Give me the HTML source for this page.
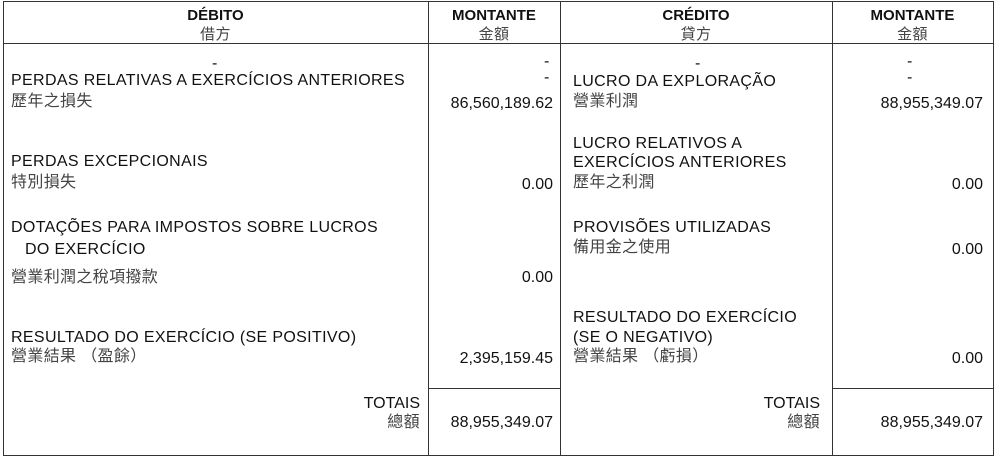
<!DOCTYPE html>
<html><head><meta charset="utf-8"><style>
body{margin:0;background:#fff;width:996px;height:463px;position:relative;overflow:hidden;font-family:"Liberation Sans","Noto Sans CJK TC",sans-serif;font-size:16px;color:#111;letter-spacing:0.35px}
.t{position:absolute;line-height:22px;white-space:nowrap}
.c{color:#444}
.b{font-weight:bold;font-size:15px;letter-spacing:0}
.h{font-size:15px}
.r{text-align:right}
.n{letter-spacing:0}
.l{position:absolute;background:#333}
</style></head><body>
<div class="l" style="left:3px;top:1px;width:990px;height:1px"></div>
<div class="l" style="left:3px;top:455px;width:990px;height:1px"></div>
<div class="l" style="left:3px;top:1px;width:1px;height:455px"></div>
<div class="l" style="left:993px;top:1px;width:1px;height:455px"></div>
<div class="l" style="left:428px;top:1px;width:1px;height:455px"></div>
<div class="l" style="left:560px;top:1px;width:1px;height:455px"></div>
<div class="l" style="left:832px;top:1px;width:1px;height:455px"></div>
<div class="l" style="left:3px;top:43px;width:990px;height:1px"></div>
<div class="l" style="left:428px;top:388px;width:132px;height:1px"></div>
<div class="l" style="left:832px;top:388px;width:161px;height:1px"></div>

<div class="t b" style="left:3px;width:425px;text-align:center;top:5px">DÉBITO</div>
<div class="t c h" style="left:3px;width:425px;text-align:center;top:24px">借方</div>
<div class="t b" style="left:428px;width:132px;text-align:center;top:5px">MONTANTE</div>
<div class="t c h" style="left:428px;width:132px;text-align:center;top:24px">金額</div>
<div class="t b" style="left:560px;width:272px;text-align:center;top:5px">CRÉDITO</div>
<div class="t c h" style="left:560px;width:272px;text-align:center;top:24px">貸方</div>
<div class="t b" style="left:832px;width:161px;text-align:center;top:5px">MONTANTE</div>
<div class="t c h" style="left:832px;width:161px;text-align:center;top:24px">金額</div>

<div class="t" style="left:212px;top:53px">-</div>
<div class="t" style="left:11px;top:70px">PERDAS RELATIVAS A EXERCÍCIOS ANTERIORES</div>
<div class="t c" style="left:11px;top:91px">歷年之損失</div>
<div class="t" style="left:11px;top:151px">PERDAS EXCEPCIONAIS</div>
<div class="t c" style="left:11px;top:172px">特別損失</div>
<div class="t" style="left:11px;top:217px">DOTAÇÕES PARA IMPOSTOS SOBRE LUCROS</div>
<div class="t" style="left:25px;top:239px">DO EXERCÍCIO</div>
<div class="t c" style="left:11px;top:267px">營業利潤之稅項撥款</div>
<div class="t" style="left:11px;top:327px">RESULTADO DO EXERCÍCIO (SE POSITIVO)</div>
<div class="t c" style="left:11px;top:346px">營業結果 （盈餘）</div>
<div class="t r n" style="left:200px;width:220px;top:393px">TOTAIS</div>
<div class="t r c" style="left:200px;width:220px;top:412px">總額</div>

<div class="t" style="left:544px;top:51px">-</div>
<div class="t" style="left:544px;top:67px">-</div>
<div class="t r n" style="left:430px;width:123px;top:93px">86,560,189.62</div>
<div class="t r n" style="left:430px;width:123px;top:174px">0.00</div>
<div class="t r n" style="left:430px;width:123px;top:267px">0.00</div>
<div class="t r n" style="left:430px;width:123px;top:348px">2,395,159.45</div>
<div class="t r n" style="left:430px;width:123px;top:412px">88,955,349.07</div>

<div class="t" style="left:695px;top:53px">-</div>
<div class="t" style="left:573px;top:71px">LUCRO DA EXPLORAÇÃO</div>
<div class="t c" style="left:573px;top:91px">營業利潤</div>
<div class="t" style="left:573px;top:133px">LUCRO RELATIVOS A</div>
<div class="t" style="left:573px;top:152px">EXERCÍCIOS ANTERIORES</div>
<div class="t c" style="left:573px;top:172px">歷年之利潤</div>
<div class="t" style="left:573px;top:217px">PROVISÕES UTILIZADAS</div>
<div class="t c" style="left:573px;top:237px">備用金之使用</div>
<div class="t" style="left:573px;top:307px">RESULTADO DO EXERCÍCIO</div>
<div class="t" style="left:573px;top:327px">(SE O NEGATIVO)</div>
<div class="t c" style="left:573px;top:346px">營業結果 （虧損）</div>
<div class="t r n" style="left:600px;width:220px;top:393px">TOTAIS</div>
<div class="t r c" style="left:600px;width:220px;top:412px">總額</div>

<div class="t" style="left:907px;top:51px">-</div>
<div class="t" style="left:907px;top:67px">-</div>
<div class="t r n" style="left:834px;width:149px;top:93px">88,955,349.07</div>
<div class="t r n" style="left:834px;width:149px;top:174px">0.00</div>
<div class="t r n" style="left:834px;width:149px;top:239px">0.00</div>
<div class="t r n" style="left:834px;width:149px;top:348px">0.00</div>
<div class="t r n" style="left:834px;width:149px;top:412px">88,955,349.07</div>
</body></html>
